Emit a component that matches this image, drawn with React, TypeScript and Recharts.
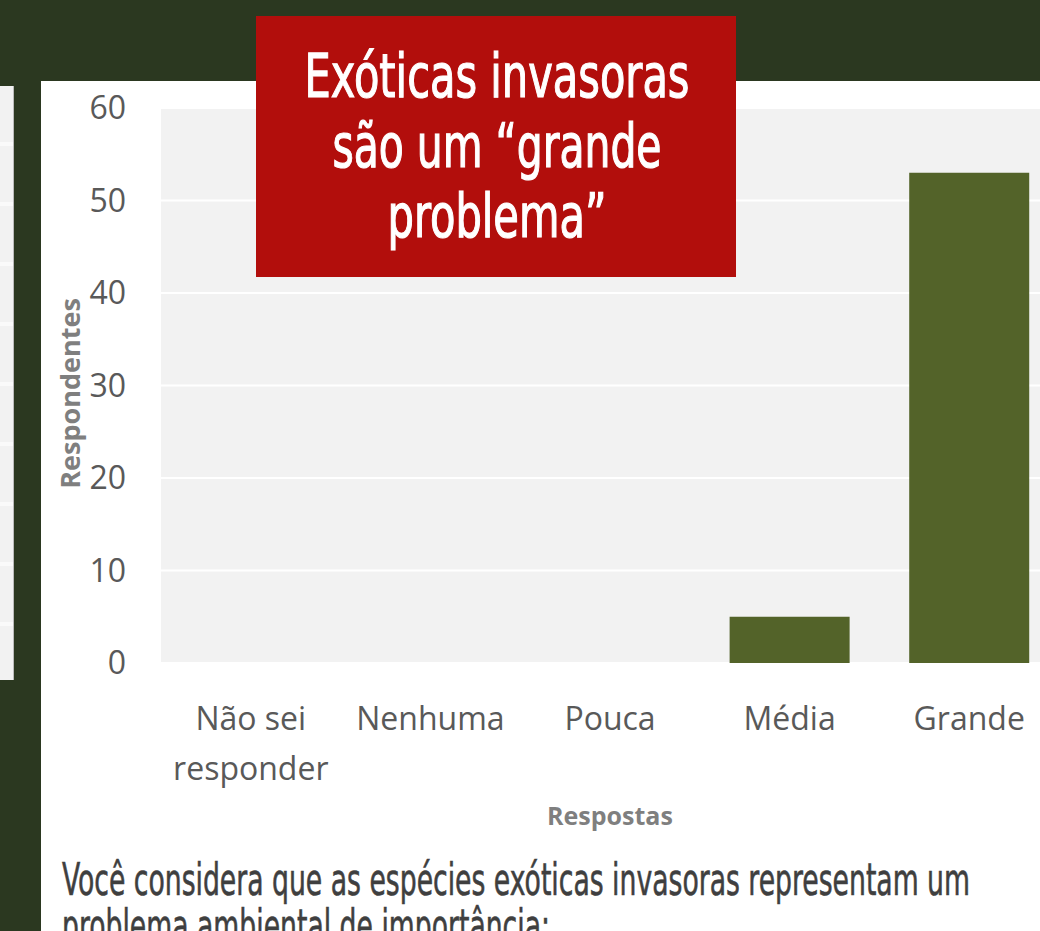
import React from "react";
import { BarChart, Bar, XAxis, YAxis, CartesianGrid, Label } from "recharts";

const categories = ["Não sei responder", "Nenhuma", "Pouca", "Média", "Grande"];
const respondentes = [0, 0, 0, 5, 53];
const yTicks = [0, 10, 20, 30, 40, 50, 60];
const titleLines = ["Exóticas invasoras", "são um “grande", "problema”"];
const questionLines = [
  "Você considera que as espécies exóticas invasoras representam um",
  "problema ambiental de importância:",
];
const yLabel = "Respondentes";
const xLabel = "Respostas";

const data = categories.map((c, i) => ({ name: c, value: respondentes[i] }));

const XTick = (props: any) => {
  const { x, y, payload } = props;
  const label: string = payload.value;
  const words = label.split(" ");
  const lines =
    label.length > 12 && words.length > 1
      ? [words.slice(0, words.length - 1).join(" "), words[words.length - 1]]
      : [label];
  return (
    <text
      x={x}
      y={y}
      textAnchor="middle"
      fill="#595959"
      fontSize={32}
      fontFamily="'Open Sans', sans-serif"
    >
      {lines.map((l, i) => (
        <tspan key={i} x={x} dy={i === 0 ? 67 : 50}>
          {l}
        </tspan>
      ))}
    </text>
  );
};

export default function App() {
  return (
    <div
      style={{
        position: "fixed",
        left: 0,
        top: 0,
        width: 1040,
        height: 931,
        overflow: "hidden",
        background: "#2B3820",
      }}
    >
      {/* left partial slide */}
      <div
        style={{
          position: "absolute",
          left: 0,
          top: 86,
          width: 13,
          height: 594,
          background:
            "repeating-linear-gradient(to bottom, #f2f2f2 0px, #f2f2f2 56px, #fafafa 56px, #fafafa 60px)",
          borderRight: "1px solid #bbbbbb",
        }}
      />
      {/* white panel */}
      <div
        style={{
          position: "absolute",
          left: 41,
          top: 81,
          width: 999,
          height: 850,
          background: "#ffffff",
        }}
      />
      <div style={{ position: "absolute", left: 0, top: 0 }}>
        <BarChart
          width={1080}
          height={931}
          data={data}
          margin={{ top: 108, right: 21, bottom: 0, left: 0 }}
          barCategoryGap="16.6%"
        >
          <CartesianGrid
            vertical={false}
            stroke="#ffffff"
            strokeWidth={2}
            fill="#F2F2F2"
          />
          <XAxis
            dataKey="name"
            height={268}
            axisLine={false}
            tickLine={false}
            tickSize={0}
            tickMargin={0}
            interval={0}
            tick={<XTick />}
          >
            <Label
              content={(p: any) => {
                const vb = p.viewBox;
                return (
                  <text
                    x={vb.x + vb.width / 2}
                    y={vb.y + 152}
                    textAnchor="middle"
                    dominantBaseline="central"
                    fill="#7F7F7F"
                    fontSize={25}
                    fontWeight="bold"
                    fontFamily="'Open Sans', sans-serif"
                  >
                    {xLabel}
                  </text>
                );
              }}
            />
          </XAxis>
          <YAxis
            width={161}
            domain={[0, 60]}
            ticks={yTicks}
            axisLine={false}
            tickLine={false}
            tickSize={0}
            tickMargin={35}
            tick={{
              fill: "#595959",
              fontSize: 32,
              fontFamily: "'Open Sans', sans-serif",
            }}
          >
            <Label
              content={(p: any) => {
                const vb = p.viewBox;
                const cx = vb.x + 69;
                const cy = vb.y + vb.height / 2 + 8;
                return (
                  <text
                    x={cx}
                    y={cy}
                    transform={`rotate(-90 ${cx} ${cy})`}
                    textAnchor="middle"
                    dominantBaseline="central"
                    fill="#7F7F7F"
                    fontSize={27}
                    fontWeight="bold"
                    fontFamily="'Open Sans', sans-serif"
                  >
                    {yLabel}
                  </text>
                );
              }}
            />
          </YAxis>
          <Bar dataKey="value" fill="#536329" isAnimationActive={false} />
        </BarChart>
      </div>
      {/* overlays: title box and question text */}
      <svg
        width={1040}
        height={931}
        style={{ position: "absolute", left: 0, top: 0 }}
      >
        <rect x={256} y={16} width={480} height={261} fill="#B20E0C" />
        {titleLines.map((t, i) => {
          const widths = [385, 329, 219];
          return (
            <text
              key={i}
              x={497}
              y={97 + i * 70}
              textAnchor="middle"
              fill="#ffffff"
              stroke="#ffffff"
              strokeWidth={1.2}
              fontSize={61}
              fontFamily="'DejaVu Sans Condensed', 'DejaVu Sans', sans-serif"
              textLength={widths[i]}
              lengthAdjust="spacingAndGlyphs"
            >
              {t}
            </text>
          );
        })}
        {questionLines.map((t, i) => {
          const widths = [908, 488];
          return (
            <text
              key={i}
              x={62}
              y={895 + i * 46}
              fill="#3F3F3F"
              stroke="#3F3F3F"
              strokeWidth={0.6}
              fontSize={44}
              fontFamily="'DejaVu Sans Condensed', 'DejaVu Sans', sans-serif"
              textLength={widths[i]}
              lengthAdjust="spacingAndGlyphs"
            >
              {t}
            </text>
          );
        })}
      </svg>
    </div>
  );
}
